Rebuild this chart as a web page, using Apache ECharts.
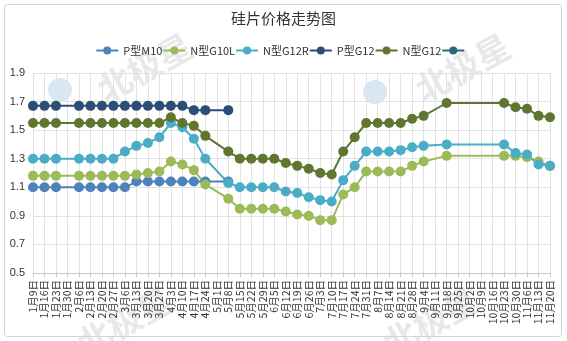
<!DOCTYPE html>
<html>
<head>
<meta charset="utf-8">
<script src="https://cdn.jsdelivr.net/npm/echarts@6/dist/echarts.min.js"></script>
<style>
  html, body { margin: 0; padding: 0; background: #fff; }
  #chart { width: 567px; height: 341px; }
</style>
</head>
<body>
<div id="chart"></div>
<script>
// Weekly sampling dates
const categories = [
  '1月9日','1月16日','1月23日','1月30日','2月6日','2月13日','2月20日','2月27日',
  '3月6日','3月13日','3月20日','3月27日','4月3日','4月10日','4月17日','4月24日',
  '5月1日','5月8日','5月15日','5月22日','5月29日','6月5日','6月12日','6月19日',
  '6月26日','7月3日','7月10日','7月17日','7月24日','7月31日','8月7日','8月14日',
  '8月21日','8月28日','9月4日','9月11日','9月18日','9月25日','10月2日','10月9日',
  '10月16日','10月23日','10月30日','11月6日','11月13日','11月20日'
];

const seriesNames = ['P型M10', 'N型G10L', 'N型G12R', 'P型G12', 'N型G12', ' '];

const pM10 = [1.10,1.10,1.10,null,1.10,1.10,1.10,1.10,1.10,1.14,1.14,1.14,1.14,1.14,1.14,1.14,null,1.14,
  null,null,null,null,null,null,null,null,null,null,null,null,null,null,null,null,null,null,null,null,null,null,null,null,null,null,null,null];

const nG10L = [1.18,1.18,1.18,null,1.18,1.18,1.18,1.18,1.18,1.19,1.20,1.21,1.28,1.26,1.22,1.12,null,1.02,
  0.95,0.95,0.95,0.95,0.93,0.91,0.90,0.87,0.87,1.05,1.10,1.21,1.21,1.21,1.21,1.25,1.28,null,1.32,
  null,null,null,null,1.32,1.32,1.31,1.28,1.25];

const nG12R = [1.30,1.30,1.30,null,1.30,1.30,1.30,1.30,1.35,1.39,1.41,1.45,1.55,1.52,1.44,1.30,null,1.13,
  1.10,1.10,1.10,1.10,1.07,1.06,1.03,1.01,1.00,1.15,1.25,1.35,1.35,1.35,1.36,1.38,1.39,null,1.40,
  null,null,null,null,1.40,1.34,1.33,1.26,1.25];

const pG12 = [1.67,1.67,1.67,null,1.67,1.67,1.67,1.67,1.67,1.67,1.67,1.67,1.67,1.67,1.64,1.64,null,1.64,
  null,null,null,null,null,null,null,null,null,null,null,null,null,null,null,null,null,null,null,null,null,null,null,null,null,null,null,null];

const nG12 = [1.55,1.55,1.55,null,1.55,1.55,1.55,1.55,1.55,1.55,1.55,1.55,1.59,1.55,1.53,1.46,null,1.35,
  1.30,1.30,1.30,1.30,1.27,1.25,1.23,1.20,1.19,1.35,1.45,1.55,1.55,1.55,1.55,1.58,1.60,null,1.69,
  null,null,null,null,1.69,1.66,1.65,1.60,1.59];

const extra = [];

const colors = ['#4f81bd', '#9bbb59', '#4bacc6', '#2c4d75', '#5f7530', '#276a7c'];
const yTicks = { min: 0.5, max: 1.9, interval: 0.2 };

const allData = [pM10, nG10L, nG12R, pG12, nG12, extra];

const chart = echarts.init(document.getElementById('chart'));

// Faint brand word, rotated so it climbs to the right
function brandText(x, y) {
  return {
    type: 'text', z: -10, silent: true, x: x, y: y, rotation: 0.5,
    style: {
      text: '北极星', align: 'left', verticalAlign: 'middle',
      font: 'bold 34px "Noto Sans CJK SC"', fill: 'rgba(180,180,180,0.3)'
    }
  };
}
function brandLogo(cx, cy) {
  return {
    type: 'circle', z: -10, silent: true, shape: { cx: cx, cy: cy, r: 12 },
    style: { fill: 'rgba(120,165,215,0.28)' }
  };
}

chart.setOption({
  color: colors,
  animation: false,
  title: {
    text: '硅片价格走势图',
    left: 'center',
    top: 6,
    textStyle: { fontSize: 15, fontWeight: 'normal', color: '#333', fontFamily: '"Noto Sans CJK SC"' }
  },
  legend: {
    data: seriesNames,
    top: 40,
    left: 'center',
    itemWidth: 22,
    itemHeight: 10,
    itemGap: 0,
    textStyle: { fontSize: 11, color: '#333', fontFamily: '"Noto Sans CJK SC"' }
  },
  grid: { left: 33, right: 17, top: 73, bottom: 68 },
  xAxis: {
    type: 'category',
    data: categories,
    boundaryGap: false,
    axisLine: { lineStyle: { color: '#c8c8c8' } },
    axisTick: { show: true, length: 4, lineStyle: { color: '#c8c8c8' } },
    axisLabel: { rotate: 90, interval: 0, fontSize: 10.5, color: '#333', margin: 7, fontFamily: '"Noto Sans CJK SC"' },
    splitLine: { show: true, interval: 0, lineStyle: { color: '#e2e2e2' } }
  },
  yAxis: {
    type: 'value',
    min: yTicks.min, max: yTicks.max, interval: yTicks.interval,
    axisLine: { show: false },
    axisTick: { show: false },
    axisLabel: { fontSize: 11, color: '#333', margin: 8, formatter: v => v.toFixed(1) },
    splitLine: { lineStyle: { color: '#e2e2e2' } }
  },
  graphic: [
    {
      type: 'rect', z: 100, silent: true,
      shape: { x: 4.5, y: 4.5, width: 557, height: 332, r: 3 },
      style: { fill: 'none', stroke: '#d4d4d4', lineWidth: 1 }
    },
    brandLogo(60, 90),
    brandLogo(375, 92),
    brandText(100, 92),
    brandText(418, 92),
    brandText(80, 346),
    brandText(386, 346)
  ],
  series: seriesNames.map((name, i) => ({
    name: name,
    type: 'line',
    data: allData[i],
    connectNulls: true,
    symbol: 'circle',
    symbolSize: 10,
    lineStyle: { width: 2 },
    itemStyle: { color: colors[i] }
  }))
});
</script>
</body>
</html>
